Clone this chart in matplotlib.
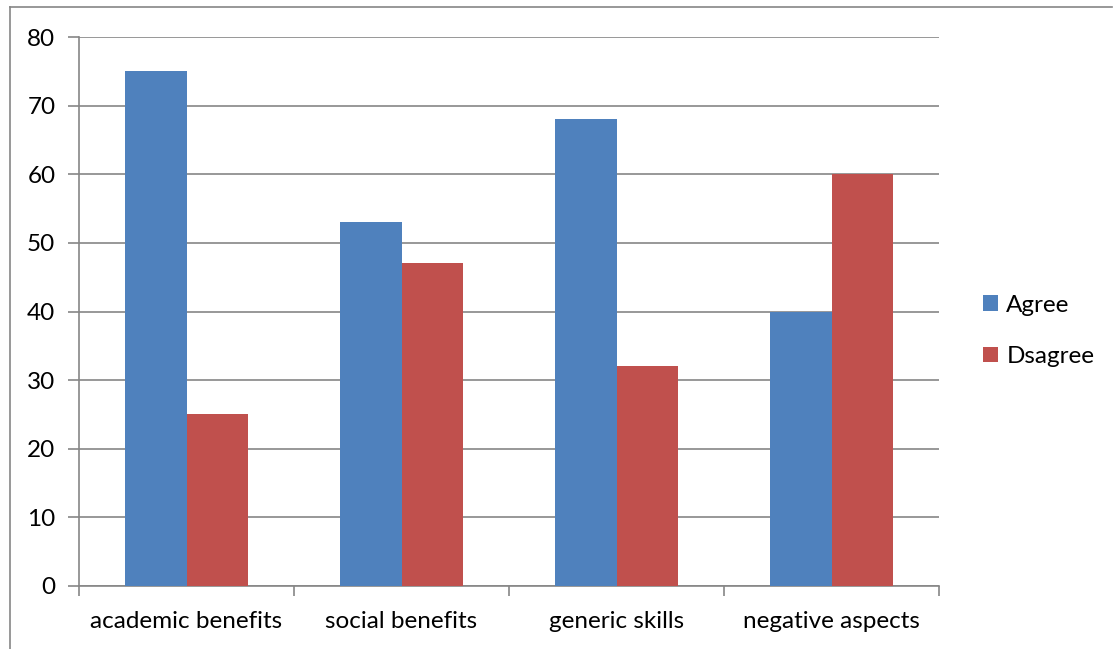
import matplotlib.pyplot as plt
import numpy as np
from matplotlib.lines import Line2D

categories = ["academic benefits", "social benefits", "generic skills", "negative aspects"]
agree = [75, 53, 68, 40]
disagree = [25, 47, 32, 60]

plt.rcParams['font.family'] = ['Lato', 'DejaVu Sans']

fig = plt.figure(figsize=(11.13, 6.49), dpi=100)
ax = fig.add_axes([79 / 1113, 63 / 649, 860 / 1113, 549 / 649])

x = np.arange(len(categories))
w = 1 / 3.5
ax.bar(x - w / 2, agree, w, color="#4F81BD", label="Agree", zorder=3)
ax.bar(x + w / 2, disagree, w, color="#C0504D", label="Dsagree", zorder=3)

ax.set_xlim(-0.5, len(categories) - 0.5)
ax.set_ylim(0, 80)
ax.set_yticks(range(0, 81, 10))
ax.yaxis.grid(True, color="#868686", linewidth=1.2, zorder=0)

# category boundaries as x ticks, labels as minor ticks
ax.set_xticks(np.arange(-0.5, len(categories), 1))
ax.set_xticklabels([])
ax.set_xticks(x, minor=True)
ax.set_xticklabels(categories, minor=True)
ax.tick_params(axis="x", which="minor", length=0, pad=18, labelsize=17.5)
ax.tick_params(axis="x", which="major", length=7, color="#868686", width=1.2, direction="out")
ax.tick_params(axis="y", length=8, color="#868686", width=1.2, labelsize=17.5, pad=9)

for s in ["top", "right"]:
    ax.spines[s].set_visible(False)
for s in ["left", "bottom"]:
    ax.spines[s].set_color("#868686")
    ax.spines[s].set_linewidth(1.2)

ax.legend(loc="center left", bbox_to_anchor=(1.026, 0.465), frameon=False,
          fontsize=17.5, handlelength=0.6, handleheight=0.6, labelspacing=1.25,
          handletextpad=0.35)

# outer chart frame (top and left edges)
fig.add_artist(Line2D([10 / 1113, 10 / 1113], [0, 642 / 649], color="#868686", linewidth=1.2))
fig.add_artist(Line2D([10 / 1113, 1112 / 1113], [642 / 649, 642 / 649], color="#868686", linewidth=1.2))

fig.savefig("out.png", dpi=100)
